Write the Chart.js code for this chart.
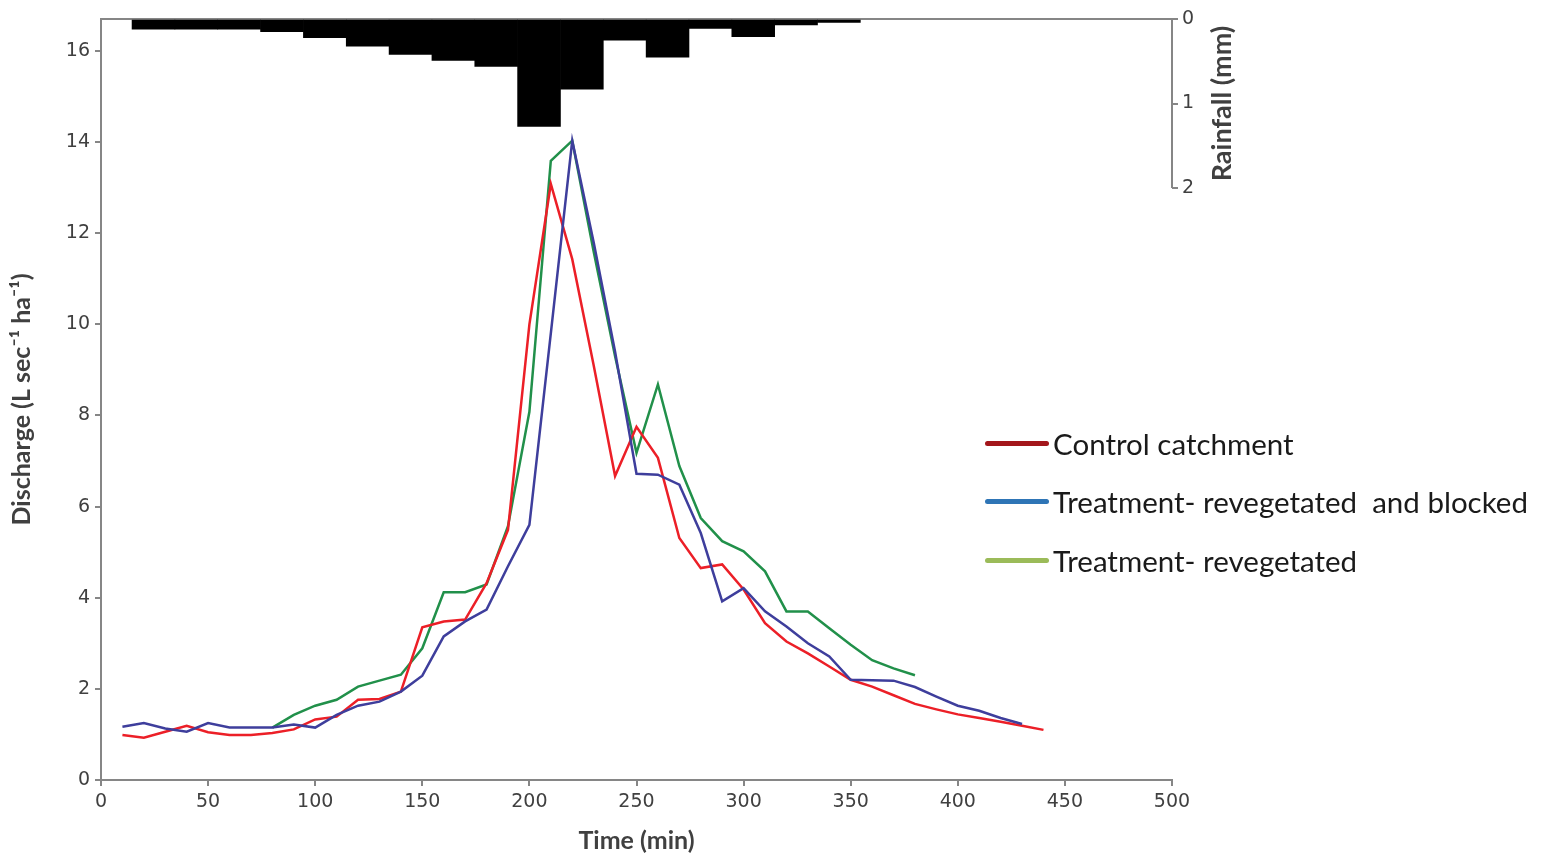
<!DOCTYPE html>
<html>
<head>
<meta charset="utf-8">
<script src="https://cdn.jsdelivr.net/npm/chart.js@4.4.1/dist/chart.umd.min.js"></script>
<style>
  body { margin: 0; background: #fff; }
  #wrap { position: relative; width: 1549px; height: 853px; }
  #legend { position: absolute; left: 985px; top: 414px; font-family: Lato, sans-serif; font-size: 29.5px; color: #1a1a1a; }
  .item { display: flex; align-items: center; height: 58.5px; white-space: pre; }
  .swatch { width: 64px; height: 5px; border-radius: 3px; margin-right: 4px; }
</style>
</head>
<body>
<div id="wrap">
  <canvas id="chart" width="1549" height="853"></canvas>
  <div id="legend"></div>
</div>
<script>
// rainfall (mm) per 20-min block, plotted downward from the top
const rainTime = [24.5, 44.5, 64.5, 84.5, 104.5, 124.5, 144.5, 164.5, 184.5, 204.5, 224.5, 244.5, 264.5, 284.5, 304.5, 324.5, 344.5];
const rainDepth = [0.12, 0.12, 0.12, 0.15, 0.22, 0.32, 0.42, 0.49, 0.56, 1.27, 0.83, 0.25, 0.45, 0.11, 0.21, 0.07, 0.04];

// discharge (L sec-1 ha-1)
const controlTime = [10, 20, 30, 40, 50, 60, 70, 80, 90, 100, 110, 120, 130, 140, 150, 160, 170, 180, 190, 200, 210, 220, 230, 240, 250, 260, 270, 280, 290, 300, 310, 320, 330, 340, 350, 360, 370, 380, 390, 400, 410, 420, 430, 440];
const control = [0.99, 0.93, 1.06, 1.19, 1.05, 0.99, 0.99, 1.03, 1.11, 1.33, 1.39, 1.76, 1.78, 1.94, 3.35, 3.48, 3.52, 4.32, 5.49, 10.0, 13.08, 11.43, 9.1, 6.67, 7.75, 7.07, 5.31, 4.65, 4.73, 4.18, 3.44, 3.04, 2.78, 2.49, 2.2, 2.05, 1.86, 1.67, 1.55, 1.44, 1.36, 1.28, 1.19, 1.1];

const blockedTime = [10, 20, 30, 40, 50, 60, 70, 80, 90, 100, 110, 120, 130, 140, 150, 160, 170, 180, 190, 200, 210, 220, 230, 240, 250, 260, 270, 280, 290, 300, 310, 320, 330, 340, 350, 360, 370, 380, 390, 400, 410, 420, 430];
const blocked = [1.17, 1.25, 1.13, 1.06, 1.25, 1.15, 1.15, 1.15, 1.22, 1.15, 1.43, 1.63, 1.72, 1.94, 2.29, 3.15, 3.48, 3.74, 4.69, 5.6, 9.8, 14.03, 11.8, 9.4, 6.72, 6.7, 6.48, 5.42, 3.92, 4.21, 3.7, 3.37, 3.0, 2.71, 2.2, 2.19, 2.18, 2.04, 1.83, 1.63, 1.52, 1.36, 1.23];

const revegTime = [80, 90, 100, 110, 120, 130, 140, 150, 160, 170, 180, 190, 200, 210, 220, 230, 240, 250, 260, 270, 280, 290, 300, 310, 320, 330, 340, 350, 360, 370, 380];
const reveg = [1.15, 1.43, 1.63, 1.76, 2.05, 2.18, 2.31, 2.89, 4.12, 4.12, 4.29, 5.57, 8.08, 13.59, 14.03, 11.6, 9.3, 7.18, 8.68, 6.89, 5.75, 5.24, 5.02, 4.58, 3.7, 3.7, 3.33, 2.97, 2.63, 2.45, 2.3];

const rainTicks = [0, 1, 2];

const axisColor = "#868686";
const textColor = "#404040";
const tickFont = { family: "DejaVu Sans", size: 19 };
const titleFont = { family: "Lato", size: 25, weight: "bold", lineHeight: 1 };

const series = [
  { label: "Control catchment", t: controlTime, v: control, line: "#ec1f27", key: "#a3161b" },
  { label: "Treatment- revegetated  and blocked", t: blockedTime, v: blocked, line: "#3e3e9c", key: "#2e75b6" },
  { label: "Treatment- revegetated", t: revegTime, v: reveg, line: "#21904a", key: "#9bbb59" },
];

const toPoints = (t, v) => t.map((x, i) => ({ x, y: v[i] }));

// right-hand rainfall axis: short line and its title
const rainAxisPlugin = {
  id: "rainAxis",
  afterDraw(chart) {
    const { ctx, chartArea, scales } = chart;
    const s = scales.yRain;
    const top = s.getPixelForValue(rainTicks[0]);
    const bottom = s.getPixelForValue(rainTicks[rainTicks.length - 1]);
    ctx.save();
    ctx.strokeStyle = axisColor;
    ctx.lineWidth = 2;
    ctx.beginPath();
    ctx.moveTo(chartArea.right, top);
    ctx.lineTo(chartArea.right, bottom);
    ctx.stroke();
    ctx.translate(chartArea.right + 50, (top + bottom) / 2);
    ctx.rotate(-Math.PI / 2);
    ctx.font = "bold 27px Lato";
    ctx.textAlign = "center";
    ctx.textBaseline = "middle";
    ctx.fillStyle = textColor;
    ctx.fillText("Rainfall (mm)", 0, 0);
    ctx.restore();
  },
};

const datasets = series.map((s, i) => ({
  type: "line",
  label: s.label,
  data: toPoints(s.t, s.v),
  borderColor: s.line,
  borderWidth: 2.5,
  pointRadius: 0,
  tension: 0,
  fill: false,
  xAxisID: "x",
  yAxisID: "y",
  order: [2, 1, 3][i],
}));

datasets.push({
  type: "bar",
  label: "Rainfall",
  data: toPoints(rainTime, rainDepth),
  backgroundColor: "#000",
  borderWidth: 0,
  barPercentage: 1,
  categoryPercentage: 1,
  xAxisID: "x",
  yAxisID: "yRain",
  order: 0,
});

new Chart(document.getElementById("chart"), {
  type: "line",
  data: { datasets },
  plugins: [rainAxisPlugin],
  options: {
    responsive: false,
    animation: false,
    devicePixelRatio: 1,
    layout: { padding: { left: 0, top: 0, right: 337, bottom: 0 } },
    plugins: { legend: { display: false }, tooltip: { enabled: false } },
    scales: {
      x: {
        type: "linear",
        position: "bottom",
        min: 0,
        max: 500,
        offset: false,
        ticks: { stepSize: 50, font: tickFont, color: textColor, padding: 5, maxRotation: 0 },
        grid: { drawOnChartArea: false, drawTicks: true, tickLength: 6, color: axisColor, lineWidth: 2, offset: false },
        border: { color: axisColor, width: 2 },
        title: { display: true, text: "Time (min)", font: titleFont, color: textColor, padding: { top: 0, bottom: 0 } },
        afterFit(s) { s.height = 73; },
      },
      xTop: {
        type: "linear",
        position: "top",
        min: 0,
        max: 500,
        offset: false,
        ticks: { display: false },
        grid: { display: false, drawTicks: false },
        border: { color: axisColor, width: 2 },
        afterFit(s) { s.height = 19; },
      },
      y: {
        type: "linear",
        position: "left",
        min: 0,
        max: 16.7,
        ticks: { stepSize: 2, includeBounds: false, font: tickFont, color: textColor, padding: 5 },
        grid: { drawOnChartArea: false, drawTicks: true, tickLength: 6, color: axisColor, lineWidth: 2 },
        border: { color: axisColor, width: 2 },
        title: { display: true, text: "Discharge (L sec⁻¹ ha⁻¹)", font: titleFont, color: textColor, padding: { top: 9, bottom: 0 } },
        afterFit(s) { s.width = 101; },
      },
      yRain: {
        type: "linear",
        position: "right",
        reverse: true,
        min: 0,
        max: 9,
        ticks: { stepSize: 1, font: tickFont, color: textColor, padding: 4 },
        afterBuildTicks(s) { s.ticks = s.ticks.filter((t) => rainTicks.includes(t.value)); },
        grid: { drawOnChartArea: false, drawTicks: true, tickLength: 6, color: axisColor, lineWidth: 2 },
        border: { display: false },
        afterFit(s) { s.width = 40; },
      },
    },
  },
});

// legend sits on the right, over the plot edge
document.getElementById("legend").innerHTML = series
  .map((s) => `<div class="item"><span class="swatch" style="background:${s.key}"></span>${s.label}</div>`)
  .join("");
</script>
</body>
</html>
